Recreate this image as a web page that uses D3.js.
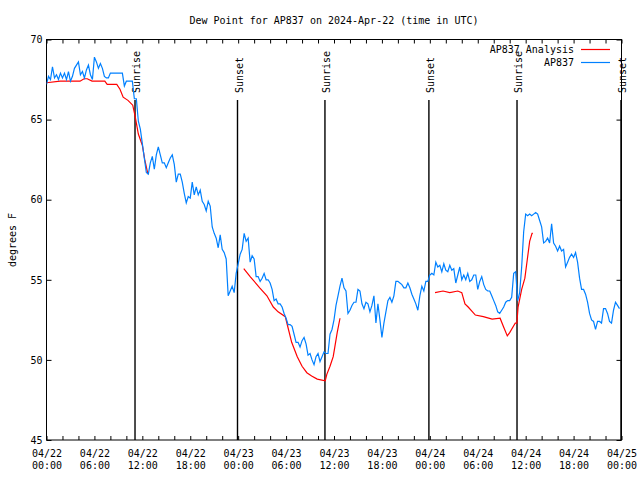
<!DOCTYPE html>
<html>
<head>
<meta charset="utf-8">
<script src="https://cdn.jsdelivr.net/npm/d3@7"></script>
<style>
  html, body { margin: 0; padding: 0; background: #fff; }
  svg { display: block; }
  text { font-family: "DejaVu Sans Mono", "Liberation Mono", monospace; font-size: 10px; fill: #000; }
</style>
</head>
<body>
<svg id="chart" width="640" height="480"></svg>
<script>
// ---------------- DATA ----------------
const titleText = "Dew Point for AP837 on 2024-Apr-22 (time in UTC)";
const yLabel = "degrees F";
const seriesNames = ["AP837 Analysis", "AP837"];

// Station observations: one reading every 15 minutes from 2024-04-22 00:00 UTC
const stationStart = "2024-04-22T00:00:00Z";
const stationStepMinutes = 15;
const stationDew = [
  67.2,67.7,67.5,68.3,67.6,67.8,67.5,67.9,67.6,67.9,67.5,68.0,67.4,67.7,68.2,68.4,68.6,67.8,68.0,67.6,
  68.1,68.4,67.8,67.5,68.9,68.6,68.2,68.5,68.2,67.7,67.6,67.6,67.9,67.9,67.9,67.9,67.9,67.9,67.9,67.1,
  67.4,67.4,67.4,67.4,66.3,66.3,64.9,64.4,63.5,62.6,61.7,61.6,62.3,62.7,61.9,62.8,63.3,62.8,62.3,62.3,
  62.0,62.3,62.6,62.8,62.2,61.1,61.6,61.6,61.1,60.4,59.8,60.2,60.1,61.1,60.3,60.8,60.3,60.6,59.9,59.7,
  59.3,59.9,59.6,58.3,57.9,57.6,57.0,57.8,56.9,56.7,56.3,54.0,54.3,54.6,54.2,55.4,56.0,56.6,56.9,57.9,
  57.4,57.6,56.1,56.5,56.3,55.2,55.2,54.9,55.1,55.4,55.0,55.0,54.8,54.4,53.7,53.8,53.5,53.5,53.3,52.9,
  52.6,52.2,52.2,52.1,51.6,51.1,51.1,50.8,51.2,51.4,51.0,50.3,50.4,50.0,49.7,50.2,50.4,49.9,50.2,50.5,
  50.4,50.4,51.6,51.9,52.5,53.4,54.0,54.6,55.1,54.5,54.3,52.9,53.1,53.4,53.6,53.6,54.4,54.3,53.5,53.2,
  53.6,53.5,53.0,53.4,54.0,52.3,53.5,52.5,51.4,52.3,53.0,53.7,53.9,53.6,54.0,54.9,54.9,54.8,54.7,54.5,
  54.5,54.8,54.5,54.1,53.8,53.5,53.1,54.0,54.6,54.3,54.9,54.9,55.3,55.4,55.3,56.1,55.8,55.9,55.5,56.0,
  55.6,55.5,55.9,55.6,55.7,54.8,55.3,55.8,55.0,55.3,55.0,55.4,54.9,55.0,55.3,55.3,54.4,54.9,55.2,54.7,
  54.4,54.3,54.3,54.0,53.7,53.4,53.0,52.9,53.1,53.3,53.6,53.7,53.7,53.9,55.4,55.5,53.7,54.2,55.8,58.0,
  59.1,59.0,59.1,59.0,59.1,59.2,59.1,58.7,58.3,57.3,57.4,57.6,57.3,58.5,57.3,57.1,56.8,57.1,56.8,56.9,
  55.8,56.1,56.4,56.6,56.4,56.7,56.1,55.1,54.4,54.4,54.1,53.6,52.9,52.5,52.4,51.9,52.4,52.4,52.3,53.2,
  53.2,52.9,52.4,52.3,53.1,53.6,53.4,53.2
];

// Analysis: hours since 2024-04-22 00:00 UTC (null = gap)
const analysisHours = [
  0.0,1.7,4.2,4.7,5.1,5.7,7.3,7.6,8.8,9.2,9.6,10.2,10.8,11.1,11.5,12.0,12.3,12.7,
  null,
  24.7,25.5,26.7,27.6,28.4,29.0,29.9,30.2,30.7,31.4,32.0,32.6,33.2,33.9,34.9,35.1,35.5,35.9,36.1,36.4,36.75,
  null,
  48.65,49.65,50.5,51.5,52.0,52.4,52.8,53.7,54.7,55.8,56.8,57.2,57.7,58.0,58.7,58.9,59.05,59.5,59.9,60.2,60.5,60.8,60.9
];
const analysisDew = [
  67.3,67.4,67.4,67.55,67.55,67.4,67.4,67.2,67.2,66.9,66.4,66.2,65.9,65.2,64.1,63.4,62.5,61.6,
  null,
  55.7,55.2,54.5,54.0,53.3,53.0,52.7,52.1,51.1,50.2,49.6,49.2,49.0,48.8,48.7,49.1,49.6,50.2,50.8,51.7,52.6,
  null,
  54.2,54.3,54.2,54.3,54.2,53.5,53.3,52.8,52.7,52.55,52.6,52.1,51.5,51.7,52.3,52.3,53.3,54.4,55.1,56.25,57.4,57.9,57.9
];

// Sun events (UTC)
const eventLabels = ["Sunrise","Sunset","Sunrise","Sunset","Sunrise","Sunset"];
const eventTimes = ["2024-04-22T11:05:00Z","2024-04-22T23:55:00Z","2024-04-23T10:52:00Z",
                    "2024-04-23T23:53:00Z","2024-04-24T10:55:00Z","2024-04-24T23:56:00Z"];

const yTicks = [45, 50, 55, 60, 65, 70];
const xDomain = ["2024-04-22T00:00:00Z", "2024-04-25T00:00:00Z"];

// ---------------- CHART ----------------
const svg = d3.select("#chart");
const M = {left: 46.5, right: 621.5, top: 39.5, bottom: 440};
const colors = {analysis: "#ff0000", station: "#0080ff"};

const x = d3.scaleUtc().domain(xDomain.map(d => new Date(d))).range([M.left, M.right]);
const y = d3.scaleLinear().domain([45, 70]).range([M.bottom, M.top]);

const t0 = new Date(stationStart).getTime();
const station = stationDew.map((v, i) => ({t: new Date(t0 + i * stationStepMinutes * 60000), v}));
const analysis = analysisHours.map((h, i) => ({t: h == null ? null : new Date(new Date(xDomain[0]).getTime() + h * 3600000), v: analysisDew[i]}));

svg.append("defs").append("clipPath").attr("id", "plotclip")
  .append("rect").attr("x", M.left).attr("y", M.top).attr("width", M.right - M.left).attr("height", M.bottom - M.top);

// Title
svg.append("text").attr("x", 334).attr("y", 23.5).attr("text-anchor", "middle").text(titleText);

// Y label
svg.append("text").attr("transform", "translate(12,240) rotate(-90)").attr("text-anchor", "middle")
  .attr("dy", "0.35em").text(yLabel);

// Axes: ticks inward
const minorTicks = d3.utcHour.every(2).range(new Date(xDomain[0]), new Date(new Date(xDomain[1]).getTime() + 1));
const bottomAxis = d3.axisBottom(x).tickValues(minorTicks).tickSize(-4).tickFormat("");
const topAxis = d3.axisTop(x).tickValues(minorTicks).tickSize(-4).tickFormat("");
svg.append("g").attr("transform", `translate(0,${M.bottom})`).call(bottomAxis).call(g => g.select(".domain").remove());
svg.append("g").attr("transform", `translate(0,${M.top})`).call(topAxis).call(g => g.select(".domain").remove());

const leftAxis = d3.axisLeft(y).tickValues(yTicks).tickSize(-5).tickPadding(6).tickFormat(d3.format("d"));
const rightAxis = d3.axisRight(y).tickValues(yTicks).tickSize(-5).tickFormat("");
const gl = svg.append("g").attr("transform", `translate(${M.left},0)`).call(leftAxis);
gl.select(".domain").remove();
gl.selectAll("text").attr("x", -4).style("font-family", "DejaVu Sans Mono").style("font-size", "10px");
svg.append("g").attr("transform", `translate(${M.right},0)`).call(rightAxis).call(g => g.select(".domain").remove());

// Labelled x ticks every 6 h
const labelTicks = d3.utcHour.every(6).range(new Date(xDomain[0]), new Date(new Date(xDomain[1]).getTime() + 1));
const fmtDate = d3.utcFormat("%m/%d"), fmtTime = d3.utcFormat("%H:%M");
const labAxis = d3.axisBottom(x).tickValues(labelTicks).tickSize(0).tickFormat("");
const glab = svg.append("g").attr("transform", `translate(0,${M.bottom})`).call(labAxis);
glab.select(".domain").remove();
glab.selectAll(".tick").each(function(d) {
  const t = d3.select(this).select("text").attr("y", 0).attr("dy", null)
    .style("font-family", "DejaVu Sans Mono").style("font-size", "10px");
  t.text(null);
  t.append("tspan").attr("x", 0).attr("y", 17).text(fmtDate(d));
  t.append("tspan").attr("x", 0).attr("y", 29).text(fmtTime(d));
});

// Frame
svg.append("rect").attr("x", M.left).attr("y", M.top).attr("width", M.right - M.left).attr("height", M.bottom - M.top)
  .attr("fill", "none").attr("stroke", "#000").attr("stroke-width", 1);

// Sun event lines
const events = eventTimes.map((t, i) => ({t: new Date(t), label: eventLabels[i]}));
svg.append("g").selectAll("line").data(events).join("line")
  .attr("x1", d => x(d.t)).attr("x2", d => x(d.t))
  .attr("y1", 100).attr("y2", M.bottom)
  .attr("stroke", "#000").attr("stroke-width", 1.4);
svg.append("g").selectAll("text").data(events).join("text")
  .attr("transform", d => `translate(${x(d.t) + 1.5},93) rotate(-90)`)
  .attr("dy", "0.35em").attr("text-anchor", "start").text(d => d.label);

// Lines
const line = d3.line().defined(d => d.t != null && d.v != null).x(d => x(d.t)).y(d => y(d.v));
const plot = svg.append("g").attr("clip-path", "url(#plotclip)");
plot.append("path").datum(analysis).attr("d", line).attr("fill", "none")
  .attr("stroke", colors.analysis).attr("stroke-width", 1.2);
plot.append("path").datum(station).attr("d", line).attr("fill", "none")
  .attr("stroke", colors.station).attr("stroke-width", 1.2);

// Legend
const legend = svg.append("g");
[[seriesNames[0], colors.analysis, 49.5], [seriesNames[1], colors.station, 62.5]].forEach(([name, c, yy]) => {
  legend.append("text").attr("x", 574).attr("y", yy).attr("dy", "0.35em").attr("text-anchor", "end").text(name);
  legend.append("line").attr("x1", 581).attr("x2", 610).attr("y1", yy).attr("y2", yy)
    .attr("stroke", c).attr("stroke-width", 1.2);
});
</script>
</body>
</html>
